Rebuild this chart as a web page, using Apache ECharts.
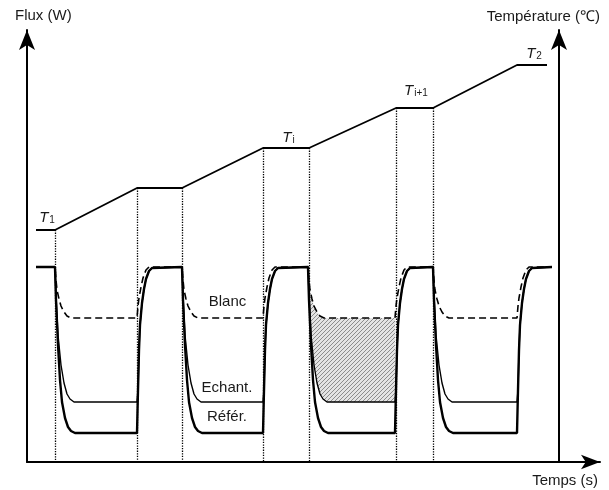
<!DOCTYPE html>
<html><head><meta charset="utf-8">
<script src="https://cdn.jsdelivr.net/npm/echarts@6/dist/echarts.min.js"></script>
<style>html,body{margin:0;padding:0;background:#fff}#c{width:609px;height:490px}</style>
</head><body><div id="c"></div>
<script>
// Units: time t (arbitrary) on x, flux / temperature (arbitrary) on y.
const temperature = [[9,232],[28,232],[110,274],[155,274],[236,314],[282,314],[369,354],[406,354],[490,397],[520,397]];
const dottedT = [28,110,155,236,282,369,406];
const dottedTop = [232,274,274,314,314,354,354];

const reference = [[9,195],
 [28,195],[29,162],[31,117],[33,82],[35,60],[38,44],[41,35],[44,31],[48,29],
 [110,29],[111,72],[112,112],[113,137],[115,159],[117,173],[119,183],[122,191],[125,194],[127,195],
 [155,195],[156,162],[158,117],[160,82],[162,60],[165,44],[168,35],[171,31],[175,29],
 [236,29],[237,72],[238,112],[239,137],[241,159],[243,173],[245,183],[248,191],[251,194],[253,195],
 [281,195],[282,162],[284,117],[286,82],[288,60],[291,44],[294,35],[297,31],[301,29],
 [368,29],[369,72],[370,112],[371,137],[373,159],[375,173],[377,183],[380,191],[383,194],[385,195],
 [406,195],[407,162],[409,117],[411,82],[413,60],[416,44],[419,35],[422,31],[426,29],
 [490,29],[491,72],[492,112],[493,137],[495,159],[497,173],[499,183],[502,191],[505,194],[507,195],
 [525,195]];
const sample = [[9,195],
 [28,195],[29,167],[31,127],[34,97],[37,79],[40,68],[43,63],[47,60],
 [110,60],[111,72],[112,112],[113,137],[115,159],[117,173],[119,183],[122,191],[125,194],[127,195],
 [155,195],[156,167],[158,127],[161,97],[164,79],[167,68],[170,63],[174,60],
 [236,60],[237,72],[238,112],[239,137],[241,159],[243,173],[245,183],[248,191],[251,194],[253,195],
 [281,195],[282,167],[284,127],[287,97],[290,79],[293,68],[296,63],[300,60],
 [368,60],[369,72],[370,112],[371,137],[373,159],[375,173],[377,183],[380,191],[383,194],[385,195],
 [406,195],[407,167],[409,127],[412,97],[415,79],[418,68],[421,63],[425,60],
 [490,60],[491,72],[492,112],[493,137],[495,159],[497,173],[499,183],[502,191],[505,194],[507,195],
 [525,195]];
const blank = [[9,195],
 [28,195],[29,182],[30,172],[32,163],[34,156],[37,150],[40,146],[44,144],
 [110,144],[111,156],[112,164],[114,175],[116,184],[119,192],[122,195],
 [155,195],[156,182],[157,172],[159,163],[161,156],[164,150],[167,146],[171,144],
 [236,144],[237,156],[238,164],[240,175],[242,184],[245,192],[248,195],
 [281,195],[282,182],[283,172],[285,163],[287,156],[290,150],[293,146],[297,144],
 [368,144],[369,156],[370,164],[372,175],[374,184],[377,192],[380,195],
 [406,195],[407,182],[408,172],[410,163],[412,156],[415,150],[418,146],[422,144],
 [490,144],[491,156],[492,164],[494,175],[496,184],[499,192],[502,195],
 [525,195]];
const hatchFrom = 281, hatchTo = 368;

const curveLabels = [['Blanc',200.5,160],['Echant.',200,74],['Référ.',200,45]];
const tempLabels = [['T','1',20,246],['T','i',261.5,326],['T','i+1',389,373],['T','2',507,410]];

// hatch pattern
const pc = document.createElement('canvas'); pc.width = 4; pc.height = 4;
const px = pc.getContext('2d');
px.fillStyle = '#e4e4e4'; px.fillRect(0,0,4,4);
px.strokeStyle = '#8c8c8c'; px.lineWidth = 1;
px.beginPath(); px.moveTo(-1,5); px.lineTo(5,-1); px.moveTo(-1,1); px.lineTo(1,-1); px.moveTo(3,5); px.lineTo(5,3); px.stroke();

const hatchPoly = blank.filter(p => p[0] >= hatchFrom && p[0] <= hatchTo)
  .concat(sample.filter(p => p[0] >= hatchFrom && p[0] <= hatchTo).reverse());

const FONT = 'Liberation Sans, Arial, Helvetica, sans-serif';
const TXT = '#1a1a1a';
const chart = echarts.init(document.getElementById('c'), null, {renderer: 'canvas'});
const dotted = dottedT.map((t, i) => [{coord:[t, dottedTop[i]]}, {coord:[t, 0]}]);
const axisLineStyle = {color: '#000', width: 2};

chart.setOption({
  animation: false,
  grid: {left: 27, right: 9, top: 30, bottom: 28},
  xAxis: {type: 'value', min: 0, max: 573, axisLine: {lineStyle: axisLineStyle, symbol: ['none','arrow'], symbolSize: [11,19]},
    axisTick: {show: false}, axisLabel: {show: false}, splitLine: {show: false}},
  yAxis: [
    {type: 'value', min: 0, max: 432, axisLine: {show: true, onZero: false, lineStyle: axisLineStyle, symbol: ['none','arrow'], symbolSize: [12,20]},
      axisTick: {show: false}, axisLabel: {show: false}, splitLine: {show: false}},
    {type: 'value', min: 0, max: 432, position: 'right', offset: -41, axisLine: {show: true, onZero: false, lineStyle: axisLineStyle, symbol: ['none','arrow'], symbolSize: [12,20]},
      axisTick: {show: false}, axisLabel: {show: false}, splitLine: {show: false}}
  ],
  series: [
    {type: 'custom', renderItem: function(params, api){
        const pts = hatchPoly.map(p => api.coord(p));
        return {type: 'polygon', shape: {points: pts}, style: {fill: {image: pc, repeat: 'repeat'}, stroke: null}};
      }, data: [0], silent: true, z: 1},
    {type: 'line', data: temperature, yAxisIndex: 1, showSymbol: false, lineStyle: {color: '#000', width: 1.8}, z: 3,
      markLine: {silent: true, symbol: ['none','none'], label: {show: false}, lineStyle: {color: '#000', type: [1.3,1.3], width: 1.3}, data: dotted}},
    {type: 'line', data: blank, showSymbol: false, lineStyle: {color: '#000', width: 1.6, type: [7,4]}, z: 4},
    {type: 'line', data: sample, showSymbol: false, lineStyle: {color: '#000', width: 1.4}, z: 5},
    {type: 'line', data: reference, showSymbol: false, lineStyle: {color: '#000', width: 2.4}, z: 6}
  ]
});

const g = [
  {type: 'text', x: 15, y: 16, style: {text: 'Flux (W)', font: '15px ' + FONT, fill: TXT, textVerticalAlign: 'middle'}},
  {type: 'text', x: 600, y: 17, style: {text: 'Température (℃)', font: '15px ' + FONT, fill: TXT, textAlign: 'right', textVerticalAlign: 'middle'}},
  {type: 'text', x: 598, y: 481, style: {text: 'Temps (s)', font: '15px ' + FONT, fill: TXT, textAlign: 'right', textVerticalAlign: 'middle'}}
];
curveLabels.forEach(l => {
  const p = chart.convertToPixel({xAxisIndex:0, yAxisIndex:0}, [l[1], l[2]]);
  g.push({type:'text', x: p[0], y: p[1], style: {text: l[0], font: '15px ' + FONT, fill: TXT, textAlign: 'center', textVerticalAlign: 'middle'}});
});
tempLabels.forEach(l => {
  const p = chart.convertToPixel({xAxisIndex:0, yAxisIndex:1}, [l[2], l[3]]);
  g.push({type:'text', x: p[0], y: p[1], style: {
    text: '{t|' + l[0] + '}{s|' + l[1] + '}',
    rich: {t: {font: 'italic 15px ' + FONT, fill: TXT, verticalAlign: 'bottom', lineHeight: 18},
           s: {font: '10px ' + FONT, fill: TXT, verticalAlign: 'bottom', lineHeight: 14, padding: [0,0,0,1]}},
    textAlign: 'center', textVerticalAlign: 'middle'}});
});
chart.setOption({graphic: g});
</script></body></html>
